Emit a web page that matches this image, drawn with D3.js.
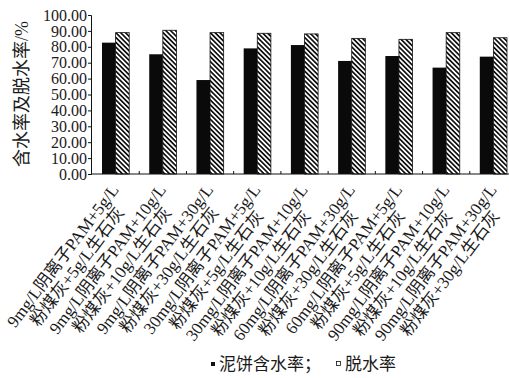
<!DOCTYPE html>
<html>
<head>
<meta charset="utf-8">
<script src="https://cdn.jsdelivr.net/npm/d3@7"></script>
<style>
  html, body { margin: 0; padding: 0; background: #fff; }
  svg { display: block; }
  text { font-family: "Liberation Serif", "Times New Roman", "Noto Sans CJK SC", serif; fill: #1a1a1a; }
</style>
</head>
<body>
<div id="chart"></div>
<script>
// Treatment conditions (two-line labels)
const conditionLine1 = [
  "9mg/L阴离子PAM+5g/L",
  "9mg/L阴离子PAM+10g/L",
  "9mg/L阴离子PAM+30g/L",
  "30mg/L阴离子PAM+5g/L",
  "30mg/L阴离子PAM+10g/L",
  "60mg/L阴离子PAM+30g/L",
  "60mg/L阴离子PAM+5g/L",
  "90mg/L阴离子PAM+10g/L",
  "90mg/L阴离子PAM+30g/L"
];
const conditionLine2 = [
  "粉煤灰+5g/L生石灰",
  "粉煤灰+10g/L生石灰",
  "粉煤灰+30g/L生石灰",
  "粉煤灰+5g/L生石灰",
  "粉煤灰+10g/L生石灰",
  "粉煤灰+30g/L生石灰",
  "粉煤灰+5g/L生石灰",
  "粉煤灰+10g/L生石灰",
  "粉煤灰+30g/L生石灰"
];
// Sludge cake moisture content (%) and dewatering rate (%)
const moisture = [82.6, 75.3, 59.1, 79.0, 81.1, 71.1, 74.2, 66.9, 73.8];
const dewater  = [88.9, 90.4, 88.9, 88.5, 88.1, 85.3, 84.7, 88.9, 85.7];
const yTicks = [0, 10, 20, 30, 40, 50, 60, 70, 80, 90, 100];
const seriesNames = ["泥饼含水率；", "脱水率"];
const yTitle = "含水率及脱水率/%";

const W = 509, H = 378;
const svg = d3.select("#chart").append("svg").attr("width", W).attr("height", H);

const defs = svg.append("defs");
const pat = defs.append("pattern")
  .attr("id", "hatch")
  .attr("patternUnits", "userSpaceOnUse")
  .attr("width", 3.4).attr("height", 10)
  .attr("patternTransform", "rotate(-45)");
pat.append("rect").attr("width", 3.4).attr("height", 10).attr("fill", "#fff");
pat.append("line").attr("x1", 0.85).attr("x2", 0.85).attr("y1", 0).attr("y2", 10)
  .attr("stroke", "#111").attr("stroke-width", 1.7);

const axisX0 = 91, axisY0 = 174, axisTop = 15;
const x = d3.scaleBand().domain(d3.range(moisture.length)).range([92, 517]).padding(0);
const y = d3.scaleLinear().domain([0, 100]).range([axisY0, axisTop]);
const barW = 13.6;

// bars
const groups = svg.append("g").selectAll("g").data(d3.range(moisture.length)).join("g")
  .attr("transform", i => `translate(${x(i) + x.bandwidth() / 2},0)`);
groups.append("rect")
  .attr("x", -barW).attr("width", barW)
  .attr("y", i => y(moisture[i])).attr("height", i => y(0) - y(moisture[i]))
  .attr("fill", "#0a0a0a");
groups.append("rect")
  .attr("x", 0).attr("width", barW)
  .attr("y", i => y(dewater[i])).attr("height", i => y(0) - y(dewater[i]))
  .attr("fill", "url(#hatch)").attr("stroke", "#111").attr("stroke-width", 0.8);

// y axis
const yAxis = d3.axisLeft(y).tickValues(yTicks).tickSize(3).tickPadding(1)
  .tickFormat(d => d3.format(".2f")(d));
const gy = svg.append("g").attr("transform", `translate(${axisX0},0)`).call(yAxis);
gy.select(".domain").attr("stroke", "#111").attr("stroke-width", 1);
gy.selectAll(".tick line").attr("stroke", "#111");
gy.selectAll(".tick text").attr("font-size", 16).attr("fill", "#1a1a1a")
  .attr("font-family", "Liberation Serif, serif");

// x axis baseline with inward ticks at band boundaries
svg.append("line").attr("x1", axisX0).attr("x2", W).attr("y1", axisY0).attr("y2", axisY0)
  .attr("stroke", "#111").attr("stroke-width", 1);
svg.append("g").selectAll("line").data(d3.range(1, moisture.length)).join("line")
  .attr("x1", i => x(i)).attr("x2", i => x(i))
  .attr("y1", axisY0).attr("y2", axisY0 - 3)
  .attr("stroke", "#111");

// y title
svg.append("text")
  .attr("transform", `translate(28,94) rotate(-90)`)
  .attr("text-anchor", "middle")
  .attr("font-size", 18)
  .text(yTitle);

// rotated two-line category labels
const labels = svg.append("g").selectAll("g").data(d3.range(moisture.length)).join("g")
  .attr("transform", i => `translate(${x(i) + x.bandwidth() / 2 + 4},${axisY0 + 16}) rotate(-53)`);
labels.each(function (i) {
  const g = d3.select(this);
  const t1 = g.append("text").attr("text-anchor", "end").attr("font-size", 17).text(conditionLine1[i]);
  const len = t1.node().getComputedTextLength();
  g.append("text").attr("text-anchor", "middle").attr("font-size", 17)
    .attr("x", -len / 2).attr("y", 18).text(conditionLine2[i]);
});

// legend
const leg = svg.append("g");
leg.append("rect").attr("x", 211).attr("y", 362).attr("width", 4).attr("height", 4).attr("fill", "#111");
leg.append("text").attr("x", 219).attr("y", 370).attr("font-size", 17).text(seriesNames[0]);
leg.append("rect").attr("x", 336.5).attr("y", 361.5).attr("width", 4).attr("height", 4)
  .attr("fill", "#fff").attr("stroke", "#111").attr("stroke-width", 0.8);
leg.append("text").attr("x", 345).attr("y", 370).attr("font-size", 17).text(seriesNames[1]);
</script>
</body>
</html>
